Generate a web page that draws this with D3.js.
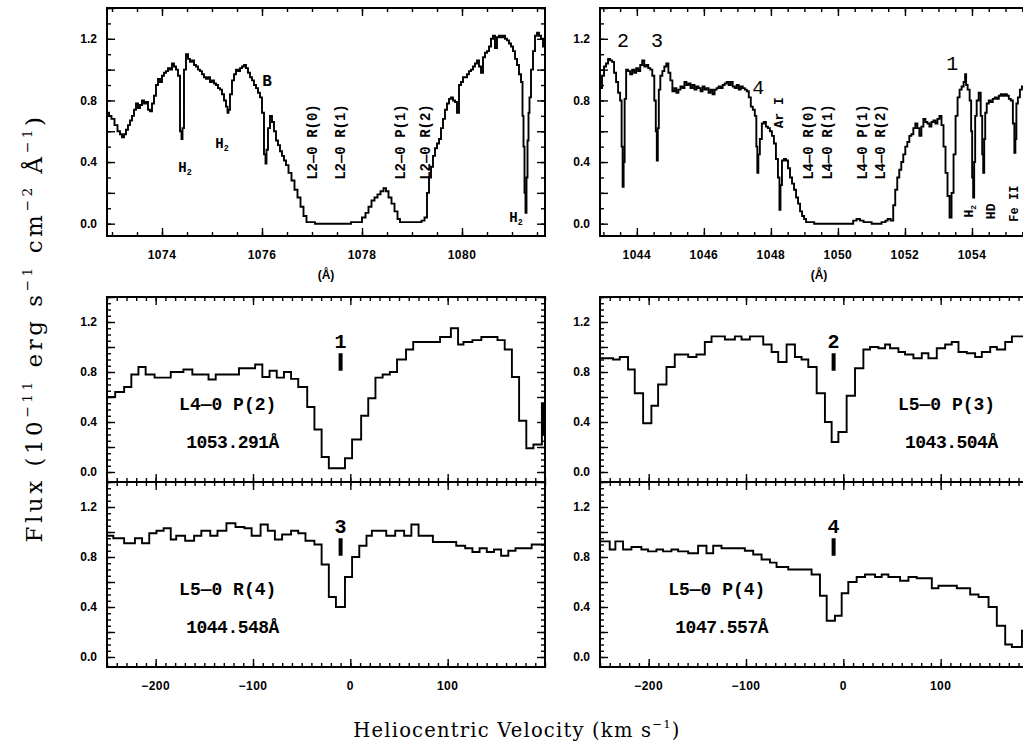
<!DOCTYPE html>
<html><head><meta charset="utf-8">
<script src="https://cdn.jsdelivr.net/npm/d3@7"></script>
<style>body{margin:0;background:#fff} svg{display:block}</style>
</head><body>
<svg id="c" width="1023" height="748"></svg>
<script>
// ---------------- DATA ----------------
// Top-left spectrum: wavelength (Å) and flux
const tlWave = [1072.92,1072.96,1073.02,1073.08,1073.14,1073.18,1073.22,1073.26,1073.30,1073.34,1073.38,1073.42,1073.46,1073.50,1073.54,1073.58,1073.62,1073.66,1073.70,1073.74,1073.78,1073.82,1073.86,1073.90,1073.94,1073.98,1074.02,1074.06,1074.10,1074.14,1074.18,1074.22,1074.26,1074.30,1074.34,1074.38,1074.40,1074.42,1074.46,1074.50,1074.54,1074.58,1074.62,1074.66,1074.70,1074.74,1074.78,1074.82,1074.86,1074.90,1074.94,1074.98,1075.02,1075.06,1075.10,1075.14,1075.18,1075.22,1075.26,1075.30,1075.32,1075.34,1075.38,1075.42,1075.46,1075.50,1075.54,1075.58,1075.62,1075.66,1075.70,1075.74,1075.78,1075.82,1075.86,1075.90,1075.94,1075.98,1076.02,1076.06,1076.08,1076.10,1076.14,1076.18,1076.22,1076.26,1076.30,1076.34,1076.38,1076.42,1076.46,1076.50,1076.56,1076.62,1076.68,1076.74,1076.80,1076.86,1076.92,1077.20,1077.60,1077.96,1078.04,1078.10,1078.16,1078.22,1078.28,1078.34,1078.40,1078.46,1078.50,1078.56,1078.62,1078.68,1078.74,1078.78,1079.16,1079.22,1079.28,1079.32,1079.36,1079.40,1079.44,1079.48,1079.52,1079.56,1079.60,1079.64,1079.68,1079.72,1079.76,1079.80,1079.84,1079.88,1079.92,1079.96,1080.00,1080.04,1080.08,1080.12,1080.16,1080.20,1080.24,1080.28,1080.32,1080.36,1080.40,1080.44,1080.48,1080.52,1080.56,1080.60,1080.64,1080.68,1080.72,1080.76,1080.80,1080.84,1080.88,1080.92,1080.96,1081.00,1081.04,1081.08,1081.12,1081.16,1081.20,1081.22,1081.24,1081.26,1081.28,1081.30,1081.32,1081.34,1081.36,1081.40,1081.44,1081.48,1081.52,1081.56,1081.60,1081.64];
const tlFlux = [0.72,0.70,0.68,0.64,0.60,0.58,0.56,0.58,0.61,0.64,0.67,0.70,0.74,0.78,0.75,0.77,0.80,0.78,0.79,0.74,0.73,0.78,0.83,0.90,0.94,0.92,0.96,0.98,0.99,1.01,1.00,1.04,1.02,1.00,0.96,0.60,0.55,0.62,1.00,1.10,1.07,1.05,1.06,1.03,1.02,1.00,0.99,0.97,0.95,0.94,0.95,0.92,0.93,0.91,0.90,0.88,0.87,0.84,0.80,0.76,0.72,0.74,0.84,0.93,0.97,1.00,0.99,1.01,1.02,1.03,1.01,0.98,0.95,0.93,0.90,0.88,0.85,0.82,0.72,0.45,0.39,0.48,0.62,0.70,0.66,0.60,0.54,0.51,0.47,0.44,0.41,0.38,0.33,0.28,0.22,0.17,0.11,0.05,0.01,0.00,0.00,0.01,0.04,0.07,0.11,0.15,0.17,0.19,0.21,0.23,0.21,0.17,0.13,0.08,0.03,0.01,0.01,0.02,0.04,0.20,0.30,0.37,0.44,0.49,0.52,0.55,0.62,0.68,0.74,0.78,0.81,0.82,0.80,0.79,0.72,0.90,0.92,0.95,0.95,0.97,0.99,1.00,1.02,1.04,1.06,1.02,0.98,1.08,1.11,1.12,1.15,1.20,1.22,1.14,1.21,1.22,1.21,1.22,1.20,1.19,1.17,1.15,1.12,1.07,1.03,0.97,0.92,0.70,0.50,0.20,0.07,0.30,0.54,0.72,0.82,1.00,1.12,1.22,1.24,1.22,1.20,1.15];

// Top-right spectrum
const trWave = [1042.93,1042.99,1043.05,1043.11,1043.17,1043.23,1043.29,1043.35,1043.41,1043.47,1043.53,1043.56,1043.59,1043.62,1043.65,1043.71,1043.77,1043.83,1043.89,1043.95,1044.01,1044.07,1044.13,1044.19,1044.25,1044.31,1044.37,1044.43,1044.49,1044.55,1044.58,1044.61,1044.64,1044.67,1044.73,1044.79,1044.85,1044.91,1044.97,1045.03,1045.09,1045.15,1045.21,1045.27,1045.33,1045.39,1045.45,1045.51,1045.57,1045.63,1045.69,1045.75,1045.81,1045.87,1045.93,1045.99,1046.05,1046.11,1046.17,1046.23,1046.29,1046.35,1046.41,1046.47,1046.53,1046.59,1046.65,1046.71,1046.77,1046.83,1046.89,1046.95,1047.01,1047.07,1047.13,1047.19,1047.25,1047.31,1047.37,1047.43,1047.49,1047.55,1047.58,1047.61,1047.64,1047.70,1047.76,1047.82,1047.88,1047.94,1048.00,1048.06,1048.12,1048.18,1048.24,1048.27,1048.30,1048.36,1048.42,1048.48,1048.54,1048.60,1048.66,1048.72,1048.78,1048.84,1048.90,1048.96,1049.02,1049.08,1049.50,1050.00,1050.40,1050.51,1050.60,1050.72,1050.81,1051.20,1051.40,1051.44,1051.53,1051.62,1051.68,1051.74,1051.80,1051.86,1051.92,1051.98,1052.04,1052.10,1052.16,1052.22,1052.28,1052.34,1052.40,1052.46,1052.52,1052.58,1052.64,1052.70,1052.76,1052.82,1052.88,1052.94,1053.00,1053.06,1053.12,1053.18,1053.24,1053.30,1053.36,1053.42,1053.48,1053.54,1053.60,1053.66,1053.72,1053.78,1053.81,1053.84,1053.90,1053.96,1053.99,1054.02,1054.05,1054.08,1054.11,1054.17,1054.23,1054.29,1054.32,1054.35,1054.38,1054.41,1054.47,1054.53,1054.59,1054.65,1054.71,1054.77,1054.83,1054.89,1054.95,1055.01,1055.07,1055.13,1055.19,1055.25,1055.28,1055.31,1055.34,1055.40,1055.46,1055.52,1055.61,1055.76,1055.94];
const trFlux = [0.88,0.96,1.02,1.04,1.07,1.06,1.05,0.98,0.92,0.85,0.80,0.50,0.24,0.40,0.81,1.00,0.99,0.97,1.00,0.98,1.01,0.99,1.03,1.06,1.02,1.03,1.01,1.00,0.96,0.80,0.60,0.41,0.62,0.87,0.96,0.99,1.02,1.04,0.98,0.93,0.86,0.88,0.85,0.87,0.89,0.88,0.92,0.90,0.91,0.88,0.90,0.87,0.89,0.88,0.86,0.89,0.87,0.88,0.85,0.87,0.84,0.87,0.88,0.89,0.88,0.90,0.91,0.92,0.90,0.92,0.89,0.88,0.90,0.87,0.89,0.88,0.87,0.86,0.82,0.76,0.74,0.70,0.50,0.33,0.45,0.55,0.65,0.66,0.63,0.62,0.60,0.57,0.52,0.42,0.30,0.09,0.25,0.41,0.42,0.41,0.36,0.30,0.26,0.22,0.17,0.13,0.08,0.05,0.03,0.01,0.00,0.00,0.00,0.02,0.03,0.02,0.01,0.00,0.01,0.02,0.03,0.02,0.12,0.22,0.30,0.35,0.40,0.45,0.50,0.53,0.57,0.58,0.62,0.65,0.62,0.57,0.63,0.68,0.66,0.65,0.63,0.66,0.67,0.65,0.68,0.70,0.64,0.50,0.33,0.18,0.04,0.20,0.45,0.70,0.82,0.87,0.89,0.92,0.97,0.90,0.87,0.80,0.60,0.30,0.17,0.40,0.70,0.80,0.85,0.70,0.45,0.33,0.55,0.72,0.78,0.80,0.79,0.81,0.82,0.81,0.83,0.84,0.83,0.84,0.83,0.81,0.80,0.65,0.46,0.55,0.78,0.82,0.87,0.89,0.90,0.88,0.86];

// Velocity panels: bin start velocities (km/s) and flux; last entry is the right edge
const velP2 = [-250,-241.6,-232.4,-225.0,-217.7,-210.3,-201.1,-184.5,-171.5,-162.3,-145.7,-138.3,-114.4,-97.8,-90.4,-83.0,-75.6,-68.2,-60.9,-53.5,-44.3,-36.9,-29.5,-22.1,-5.5,1.8,11.1,18.4,25.8,33.2,40.6,48.0,57.2,64.6,92.2,103.3,110.7,116.2,125.4,134.6,151.2,158.6,166.0,173.4,180.8,188.1,196.8,198.0,200];
const fluxP2 = [0.60,0.64,0.68,0.78,0.84,0.78,0.755,0.80,0.82,0.78,0.74,0.78,0.83,0.86,0.76,0.81,0.755,0.80,0.745,0.68,0.52,0.34,0.12,0.03,0.11,0.26,0.45,0.59,0.755,0.78,0.80,0.90,0.98,1.04,1.08,1.15,1.02,1.04,1.055,1.08,1.055,0.98,0.76,0.41,0.19,0.22,0.55,0.30,0.30];

const velP3 = [-250,-236.6,-229.7,-221.2,-214.3,-205.7,-197.2,-190.3,-181.7,-173.2,-159.4,-150.9,-142.3,-135.4,-121.7,-111.4,-104.6,-96.0,-82.3,-73.7,-66.9,-58.3,-49.7,-42.9,-36.0,-27.4,-18.9,-12.0,-5.1,3.4,12.0,20.6,27.4,36.0,42.9,48.0,56.6,63.4,72.0,80.6,87.4,96.0,104.6,111.4,118.3,126.9,135.4,142.3,150.9,157.7,166.3,173.2,186.5,200];
const fluxP3 = [0.91,0.90,0.92,0.82,0.63,0.39,0.53,0.70,0.84,0.94,0.92,0.94,1.04,1.085,1.06,1.085,1.06,1.085,1.02,0.96,0.88,1.02,0.92,0.90,0.84,0.63,0.40,0.24,0.32,0.61,0.83,0.98,1.00,0.99,1.02,0.99,0.96,0.94,0.91,0.95,0.91,0.99,1.02,1.04,0.96,0.95,0.92,0.96,1.00,0.98,1.04,1.085,1.07,1.07];

const velR4 = [-250,-243.5,-232.4,-221.3,-214.0,-206.6,-199.2,-191.8,-184.5,-178.9,-169.7,-160.5,-153.1,-143.9,-136.5,-127.3,-118.0,-108.8,-101.4,-92.2,-84.8,-77.5,-70.1,-60.9,-53.5,-46.1,-36.9,-29.5,-22.1,-14.8,-5.5,1.8,9.2,16.6,22.1,36.9,46.1,55.3,62.7,70.1,84.8,108.8,118.0,125.4,132.8,140.2,147.6,154.9,162.3,169.7,186.3,200];
const fluxR4 = [0.97,0.95,0.91,0.95,0.91,0.99,1.01,1.03,0.94,0.97,0.93,0.97,1.01,0.97,1.01,1.07,1.04,1.03,0.97,1.06,1.01,0.94,0.98,1.01,0.99,0.93,0.90,0.74,0.48,0.40,0.64,0.80,0.89,0.97,1.01,0.97,1.01,0.97,1.06,0.97,0.92,0.89,0.87,0.84,0.87,0.84,0.86,0.81,0.85,0.87,0.90,0.90];

const velP4 = [-250,-240.0,-234.2,-226.3,-217.7,-207.5,-200.6,-192.0,-185.2,-176.6,-169.7,-159.4,-149.2,-140.6,-133.7,-125.2,-101.2,-92.6,-84.0,-75.4,-68.6,-56.6,-32.6,-24.0,-17.1,-8.6,-1.7,5.1,13.7,22.3,32.6,39.4,46.3,58.3,66.9,75.4,90.9,97.7,116.6,130.3,138.9,149.2,157.7,166.3,173.2,183.5,200];
const fluxP4 = [0.925,0.86,0.925,0.86,0.88,0.86,0.845,0.86,0.845,0.86,0.845,0.83,0.89,0.83,0.89,0.87,0.85,0.82,0.78,0.755,0.72,0.70,0.66,0.49,0.29,0.33,0.51,0.60,0.64,0.66,0.64,0.66,0.64,0.61,0.64,0.63,0.55,0.57,0.55,0.50,0.48,0.40,0.25,0.10,0.08,0.21,0.21];

// Tick labels
const tlWaveTicks = [1074,1076,1078,1080];
const trWaveTicks = [1044,1046,1048,1050,1052,1054];
const velTicks = [-200,-100,0,100];
const fluxTicks = [0.0,0.4,0.8,1.2];

// Line identifications
const tlIds = [{w:1077.0,t:"L2\u20140 R(0)"},{w:1077.56,t:"L2\u20140 R(1)"},{w:1078.76,t:"L2\u20140 P(1)"},{w:1079.26,t:"L2\u20140 R(2)"}];
const trIds = [{w:1049.11,t:"L4\u20140 R(0)"},{w:1049.68,t:"L4\u20140 R(1)"},{w:1050.72,t:"L4\u20140 P(1)"},{w:1051.26,t:"L4\u20140 R(2)"}];
const panelsV = [
  {vel:velP2, flux:fluxP2, num:"1", name:"L4\u20140 P(2)", wl:"1053.291\u00c5", lx:-126, col:0, row:0},
  {vel:velP3, flux:fluxP3, num:"2", name:"L5\u20140 P(3)", wl:"1043.504\u00c5", lx:106, col:1, row:0},
  {vel:velR4, flux:fluxR4, num:"3", name:"L5\u20140 R(4)", wl:"1044.548\u00c5", lx:-126, col:0, row:1},
  {vel:velP4, flux:fluxP4, num:"4", name:"L5\u20140 P(4)", wl:"1047.557\u00c5", lx:-130, col:1, row:1}
];

// ---------------- DRAWING ----------------
const svg = d3.select("#c");
const tickFont = "Liberation Sans, Arial, sans-serif";
const labFont = "Liberation Mono, Courier New, monospace";
const yDom = [-0.08, 1.4];
const colX = [107, 600], PW = 438;

function axesFor(g, x, y, w, h, o) {
  const mk = (axis, tr, vals, len) => {
    const a = g.append("g").attr("transform", tr)
      .call(axis.tickValues(vals).tickSize(-len).tickFormat(""));
    a.select(".domain").remove();
    a.selectAll("line").attr("stroke", "#000").attr("stroke-width", 1.4);
  };
  mk(d3.axisBottom(x), `translate(0,${h})`, o.xMinor, 4);
  mk(d3.axisBottom(x), `translate(0,${h})`, o.xMajor, 8);
  mk(d3.axisTop(x), `translate(0,0)`, o.xMinor, 4);
  mk(d3.axisTop(x), `translate(0,0)`, o.xMajor, 8);
  mk(d3.axisLeft(y), `translate(0,0)`, o.yMinor, 4);
  mk(d3.axisLeft(y), `translate(0,0)`, o.yMajor, 8);
  mk(d3.axisRight(y), `translate(${w},0)`, o.yMinor, 4);
  mk(d3.axisRight(y), `translate(${w},0)`, o.yMajor, 8);
  g.append("rect").attr("width", w).attr("height", h)
    .attr("fill", "none").attr("stroke", "#000").attr("stroke-width", 2);
  // y labels
  g.selectAll(null).data(fluxTicks).enter().append("text")
    .attr("x", -10).attr("y", d => y(d)).attr("dy", "0.35em")
    .attr("text-anchor", "end").attr("font-family", tickFont)
    .attr("font-weight", "bold").attr("font-size", 12).text(d3.format(".1f"));
  if (o.xLabels) {
    g.selectAll(null).data(o.xLabels).enter().append("text")
      .attr("x", d => x(d)).attr("y", h + 23)
      .attr("text-anchor", "middle").attr("font-family", tickFont)
      .attr("font-weight", "bold").attr("font-size", 12).attr("letter-spacing", 0.5)
      .text(o.fmt);
  }
}

function clipG(g, id, w, h) {
  g.append("clipPath").attr("id", id).append("rect").attr("width", w).attr("height", h);
  return g.append("g").attr("clip-path", `url(#${id})`);
}

const range = (a, b, s) => d3.range(Math.round(a / s), Math.round(b / s) + 1).map(k => +(k * s).toFixed(4));

// --- top panels ---
function topPanel(ci, waves, fluxes, dom, major, ids, id) {
  const x0 = colX[ci], y0 = 8, h = 228;
  const g = svg.append("g").attr("transform", `translate(${x0},${y0})`);
  const x = d3.scaleLinear().domain(dom).range([0, PW]);
  const y = d3.scaleLinear().domain(yDom).range([h, 0]);
  const cg = clipG(g, id, PW, h);
  const pts = waves.map((w, i) => [w, fluxes[i]]);
  cg.append("path").datum(pts)
    .attr("d", d3.line().x(d => x(d[0])).y(d => y(d[1])).curve(d3.curveStep))
    .attr("fill", "none").attr("stroke", "#000").attr("stroke-width", 1.9);
  axesFor(g, x, y, PW, h, {
    xMinor: range(Math.ceil(dom[0] * 2) / 2, dom[1], 0.5),
    xMajor: major, yMinor: range(-0.0, 1.4, 0.1), yMajor: range(0, 1.4, 0.2),
    xLabels: major, fmt: d3.format("d")
  });
  g.append("text").attr("x", PW / 2).attr("y", 271).attr("text-anchor", "middle")
    .attr("font-family", tickFont).attr("font-weight", "bold").attr("font-size", 12).text("(\u00c5)");
  // rotated identifications
  ids.forEach(d => {
    g.append("text").attr("transform", `translate(${x(d.w)},${y(0.53)}) rotate(-90)`)
      .attr("text-anchor", "middle").attr("dy", "0.35em")
      .attr("font-family", labFont).attr("font-weight", "bold").attr("font-size", 14)
      .text(d.t);
  });
  return {g, x, y};
}

const TL = topPanel(0, tlWave, tlFlux, [1072.9, 1081.66], tlWaveTicks, tlIds, "ctl");
const TR = topPanel(1, trWave, trFlux, [1042.9, 1055.97], trWaveTicks, trIds, "ctr");

function h2(g, xx, yy, main, sub, rot, size) {
  const t = g.append("text").attr("transform", `translate(${xx},${yy})` + (rot ? " rotate(-90)" : ""))
    .attr("text-anchor", "middle").attr("dy", "0.35em")
    .attr("font-family", labFont).attr("font-weight", "bold").attr("font-size", size || 14);
  t.append("tspan").text(main);
  if (sub) t.append("tspan").attr("font-size", (size || 14) * 0.6).attr("dy", 3).text(sub);
}
// top-left annotations
h2(TL.g, TL.x(1074.46), TL.y(0.37), "H", "2");
h2(TL.g, TL.x(1075.20), TL.y(0.52), "H", "2");
h2(TL.g, TL.x(1076.10), TL.y(0.93), "B", null, false, 16);
h2(TL.g, TL.x(1081.08), TL.y(0.045), "H", "2");
// top-right annotations
h2(TR.g, TR.x(1048.21), TR.y(0.72), "Ar I", null, true, 13);
h2(TR.g, TR.x(1053.89), TR.y(0.08), "H", "2", true, 13);
h2(TR.g, TR.x(1054.54), TR.y(0.08), "HD", null, true, 13);
h2(TR.g, TR.x(1055.24), TR.y(0.13), "Fe II", null, true, 12);
[{w:1043.59,f:1.19,t:"2"},{w:1044.60,f:1.19,t:"3"},{w:1047.62,f:0.89,t:"4"},{w:1053.41,f:1.04,t:"1"}].forEach(d => {
  TR.g.append("text").attr("x", TR.x(d.w)).attr("y", TR.y(d.f)).attr("dy", "0.35em")
    .attr("text-anchor", "middle").attr("font-family", labFont).attr("font-size", 20).text(d.t);
});

// --- velocity panels ---
const vDom = [-250, 200];
const rowY = [297, 482], PH = 185;
panelsV.forEach((p, i) => {
  const g = svg.append("g").attr("transform", `translate(${colX[p.col]},${rowY[p.row]})`);
  const x = d3.scaleLinear().domain(vDom).range([0, PW]);
  const y = d3.scaleLinear().domain(yDom).range([PH, 0]);
  const cg = clipG(g, "cv" + i, PW, PH);
  const pts = p.vel.map((v, k) => [v, p.flux[k]]);
  cg.append("path").datum(pts)
    .attr("d", d3.line().x(d => x(d[0])).y(d => y(d[1])).curve(d3.curveStepAfter))
    .attr("fill", "none").attr("stroke", "#000").attr("stroke-width", 1.9);
  axesFor(g, x, y, PW, PH, {
    xMinor: range(-250, 200, 10), xMajor: velTicks,
    yMinor: range(0, 1.4, 0.05), yMajor: range(0, 1.4, 0.2),
    xLabels: p.row === 1 ? velTicks : null, fmt: d3.format("d")
  });
  // marker
  g.append("text").attr("x", x(-10)).attr("y", y(1.05)).attr("dy", "0.35em")
    .attr("text-anchor", "middle").attr("font-family", labFont).attr("font-weight", "bold")
    .attr("font-size", 20).text(p.num);
  g.append("line").attr("x1", x(-10)).attr("x2", x(-10)).attr("y1", y(0.95)).attr("y2", y(0.81))
    .attr("stroke", "#000").attr("stroke-width", 4);
  g.append("text").attr("x", x(p.lx)).attr("y", y(0.55)).attr("dy", "0.35em")
    .attr("text-anchor", "middle").attr("font-family", labFont).attr("font-weight", "bold")
    .attr("font-size", 18).text(p.name);
  g.append("text").attr("x", x(p.lx + 5)).attr("y", y(0.24)).attr("dy", "0.35em")
    .attr("text-anchor", "middle").attr("font-family", labFont).attr("font-weight", "bold")
    .attr("font-size", 18).attr("letter-spacing", -0.5).text(p.wl);
});

// --- axis titles ---
const serif = "DejaVu Serif, Liberation Serif, serif";
function titled(t, parts, size) {
  parts.forEach(pp => {
    if (pp.sup) t.append("tspan").attr("font-size", size * 0.6).attr("dy", -size * 0.45).text(pp.s);
    else t.append("tspan").attr("font-size", size).attr("dy", pp.after ? size * 0.45 : 0).text(pp.s);
  });
}
const yt = svg.append("text").attr("transform", "translate(42,328) rotate(-90)")
  .attr("text-anchor", "middle").attr("font-family", serif).attr("letter-spacing", 3.5);
titled(yt, [{s:"Flux (10"},{s:"\u221211",sup:true},{s:" erg s",after:true},{s:"\u22121",sup:true},
  {s:" cm",after:true},{s:"\u22122",sup:true},{s:" \u00c5",after:true},{s:"\u22121",sup:true},{s:")",after:true}], 23);
const xt = svg.append("text").attr("x", 517).attr("y", 737)
  .attr("text-anchor", "middle").attr("font-family", serif).attr("letter-spacing", 1.2);
titled(xt, [{s:"Heliocentric Velocity (km s"},{s:"\u22121",sup:true},{s:")",after:true}], 19.5);
</script>
</body></html>
